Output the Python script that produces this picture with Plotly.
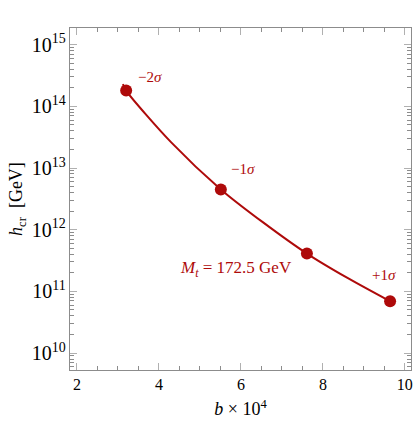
import math
import plotly.graph_objects as go

# points
b_pts = [3.20, 5.51, 7.61, 9.64]
h_pts = [1.8e14, 4.5e12, 4.1e11, 6.9e10]
pt_labels = ["−2<i>σ</i>", "−1<i>σ</i>", "", "+1<i>σ</i>"]

# curve through the points (starts slightly left of the first point)
b_curve = [3.12, 3.20, 4.30, 5.51, 6.55, 7.61, 8.60, 9.64]
h_curve = [2.3e14, 1.8e14, 2.6e13, 4.5e12, 1.3e12, 4.1e11, 1.65e11, 6.9e10]

red = "#ae0a0a"
axis_grey = "#8c8c8c"
serif = "Liberation Serif, Times New Roman, serif"

fig = go.Figure()
fig.add_trace(go.Scatter(
    x=b_curve, y=h_curve, mode="lines",
    line=dict(color=red, width=2, shape="spline", smoothing=0.8),
    hoverinfo="skip",
))
fig.add_trace(go.Scatter(
    x=b_pts, y=h_pts, mode="markers",
    marker=dict(color=red, size=12),
))

# sigma labels (annotation y on a log axis is given as log10)
offsets = [(24, 14), (22, 20), (0, 0), (-6, 26)]
for bx, hy, lab, (dx, dy) in zip(b_pts, h_pts, pt_labels, offsets):
    if lab:
        fig.add_annotation(x=bx, y=math.log10(hy), xref="x", yref="y",
                           text=lab, showarrow=False, xshift=dx, yshift=dy,
                           font=dict(family=serif, size=15, color=red))

fig.add_annotation(x=7.61, y=math.log10(4.1e11),
                   text="<i>M<sub>t</sub></i> = 172.5 GeV",
                   showarrow=False, xshift=-71, yshift=-15,
                   font=dict(family=serif, size=17, color=red))

fig.update_layout(
    width=417, height=429,
    margin=dict(l=70, r=4, t=28, b=59),
    paper_bgcolor="white", plot_bgcolor="white",
    showlegend=False,
    font=dict(family=serif, size=15, color="black"),
    xaxis=dict(
        range=[1.83, 10.15], tickvals=[2, 4, 6, 8, 10],
        ticks="inside", ticklen=7, tickcolor="#b0b0b0", tickwidth=1,
        minor=dict(dtick=0.5, tick0=0, ticks="inside", ticklen=4,
                   tickcolor=axis_grey, showgrid=False),
        showline=True, linecolor=axis_grey, linewidth=1, mirror="allticks",
        showgrid=False, zeroline=False,
        title=dict(text="<i>b</i> × 10<sup>4</sup>", standoff=10,
                   font=dict(size=18)),
        tickfont=dict(size=16),
    ),
    yaxis=dict(
        type="log", range=[9.725, 15.27], dtick=1, exponentformat="power",
        ticks="inside", ticklen=7, tickcolor="#b0b0b0", tickwidth=1,
        minor=dict(dtick="D1", ticks="inside", ticklen=4,
                   tickcolor=axis_grey, showgrid=False),
        showline=True, linecolor=axis_grey, linewidth=1, mirror="allticks",
        showgrid=False, zeroline=False,
        title=dict(text="<i>h</i><sub>cr</sub>  [GeV]", standoff=4,
                   font=dict(size=18)),
        tickfont=dict(size=16),
    ),
)

fig.write_html("out.html", config={"displayModeBar": False},
               post_script="document.body.style.margin='0';")
